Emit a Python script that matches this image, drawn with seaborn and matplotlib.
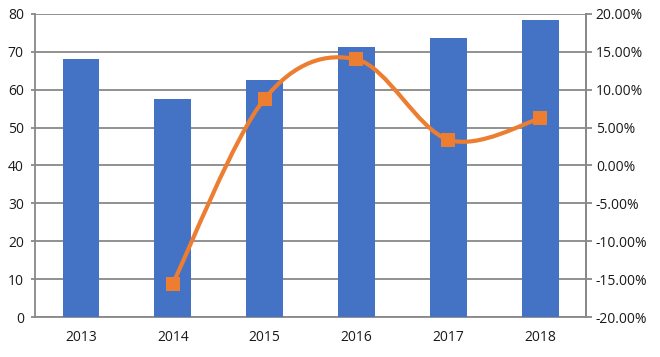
import matplotlib
matplotlib.use("Agg")
import matplotlib.pyplot as plt
import seaborn as sns
import pandas as pd
import numpy as np
from matplotlib.path import Path
from matplotlib.patches import PathPatch
from matplotlib.ticker import FuncFormatter

years = ["2013", "2014", "2015", "2016", "2017", "2018"]
values = [68.1, 57.6, 62.6, 71.3, 73.7, 78.4]
growth_years = ["2014", "2015", "2016", "2017", "2018"]
growth = [-15.6, 8.8, 14.0, 3.4, 6.2]

sns.set_theme(style="white")
plt.rcParams['font.family'] = ['Open Sans', 'DejaVu Sans']

fig = plt.figure(figsize=(6.6, 3.57), dpi=100)
ax = fig.add_axes([0.053, 0.112, 0.835, 0.849])

df = pd.DataFrame({"year": years, "value": values})
sns.barplot(data=df, x="year", y="value", color="#4472C4", saturation=1,
            width=0.4, ax=ax, zorder=3, linewidth=0, edgecolor="none")
ax.set_ylim(0, 80)
ax.set_yticks(range(0, 81, 10))
ax.set_xlabel("")
ax.set_ylabel("")
grid_c = "#888888"
ax.grid(axis="y", color=grid_c, linewidth=1.3, zorder=0)
ax.set_axisbelow(True)
ax.spines["top"].set_visible(False)
for s in ["left", "right", "bottom"]:
    ax.spines[s].set_color(grid_c)
    ax.spines[s].set_linewidth(1.3)
ax.tick_params(axis="y", length=3, color=grid_c, width=1.3, pad=5, labelsize=10, labelcolor="#1a1a1a", left=True)
ax.tick_params(axis="x", length=0, pad=9, labelsize=10, labelcolor="#1a1a1a")

ax2 = ax.twinx()
ax2.set_ylim(-20, 20)
ax2.set_yticks(range(-20, 21, 5))
ax2.yaxis.set_major_formatter(FuncFormatter(lambda v, p: f"{v:.2f}%"))
ax2.tick_params(axis="y", length=4, color=grid_c, width=1.3, pad=3, labelsize=10, labelcolor="#1a1a1a", right=True)
for s in ["top", "left", "bottom"]:
    ax2.spines[s].set_visible(False)
ax2.spines["right"].set_color(grid_c)
ax2.spines["right"].set_linewidth(1.3)
ax2.grid(False)

xpos = np.array([years.index(y) for y in growth_years], dtype=float)
ypos = np.array(growth, dtype=float)
pts = np.column_stack([xpos, ypos])

# Smooth curve (cubic Bezier segments through the points)
verts = [tuple(pts[0])]
codes = [Path.MOVETO]
n = len(pts)
t = 1.0 / 6.0
for i in range(n - 1):
    p0 = pts[i - 1] if i > 0 else pts[i]
    p1 = pts[i]
    p2 = pts[i + 1]
    p3 = pts[i + 2] if i + 2 < n else pts[i + 1]
    c1 = p1 + (p2 - p0) * t
    c2 = p2 - (p3 - p1) * t
    verts += [tuple(c1), tuple(c2), tuple(p2)]
    codes += [Path.CURVE4] * 3
patch = PathPatch(Path(verts, codes), facecolor="none", edgecolor="#ED7D31",
                  linewidth=3, zorder=4, capstyle="round")
ax2.add_patch(patch)

gdf = pd.DataFrame({"x": xpos, "growth": ypos})
sns.scatterplot(data=gdf, x="x", y="growth", marker="s", s=110, color="#ED7D31",
                edgecolor="#ED7D31", linewidth=0, ax=ax2, zorder=5)
ax2.set_xlabel("")
ax2.set_ylabel("")
ax.set_xlim(-0.5, 5.5)
ax2.set_xlim(-0.5, 5.5)

fig.savefig("out.png", dpi=100)
